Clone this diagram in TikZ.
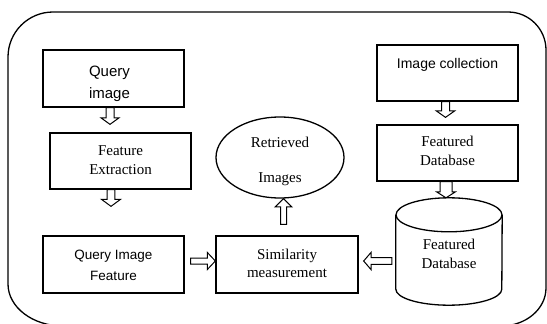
\documentclass[tikz,border=0pt]{standalone}
\usepackage{fontspec}
\setmainfont{Liberation Serif}
\setsansfont{Liberation Sans}
\usetikzlibrary{calc,shapes.geometric}
% text block: declared height #1, depth #2, lines #3
\newcommand\tlines[3]{\raisebox{0pt}[#1][#2]{\begin{tabular}[t]{@{}c@{}}#3\end{tabular}}}
% hollow block arrow: start, end, start gap, end gap, shaft half width, head half width, head length
\newcommand\blkarrow[7]{%
  \draw[blkline] let \p1=(#1), \p2=(#2),
      \n1={atan2(\y2-\y1,\x2-\x1)}, \n2={veclen(\x2-\x1,\y2-\y1)} in
    [shift={(\p1)}, rotate=\n1]
    (#3pt,-#5pt) -- ({\n2-#4pt-#7pt},-#5pt) -- ({\n2-#4pt-#7pt},-#6pt)
    -- ({\n2-#4pt},0pt) -- ({\n2-#4pt-#7pt},#6pt) -- ({\n2-#4pt-#7pt},#5pt)
    -- (#3pt,#5pt) -- cycle;}
\tikzset{
  box/.style={draw, line width=1.3pt, rectangle, inner sep=0pt, minimum width=141pt, minimum height=57pt},
  serif15/.style={font=\rmfamily\fontsize{15}{19}\selectfont},
  blkline/.style={draw, fill=white, line width=1pt, line join=miter},
  outline/.style={line width=1.3pt},
}
\begin{document}
\begin{tikzpicture}[x=1pt,y=-1pt]
\useasboundingbox (0,0) rectangle (547,324);
\clip (0,0) rectangle (547,324);
\draw[outline] (53,12) -- (508,12) arc[start angle=90, end angle=0, radius=38pt]
  -- (546,288) arc[start angle=0, end angle=-90, x radius=45pt, y radius=38pt]
  -- (63,326) arc[start angle=270, end angle=180, x radius=55pt, y radius=42pt]
  -- (8,57) arc[start angle=180, end angle=90, radius=45pt] -- cycle;

% left column
\node[box, font=\sffamily\fontsize{15}{22}\selectfont] (qi) at (113.5,78.5)
  {\tlines{0pt}{5pt}{Query\\image}\hspace*{8pt}};
\node[box, serif15, minimum height=56pt] (fe) at (120.5,161)
  {\tlines{0pt}{12pt}{Feature\\Extraction}};
\node[box, font=\sffamily\fontsize{13.5}{21}\selectfont] (qif) at (113.5,264.5)
  {\tlines{0pt}{11pt}{Query Image\\Feature}};

% middle
\node[box, minimum width=142pt, font=\rmfamily\fontsize{15}{18.5}\selectfont] (sim) at (287,264.5)
  {\tlines{0pt}{11pt}{Similarity\\measurement}};
\node[draw, ellipse, line width=1.3pt, inner sep=0pt, minimum width=128pt, minimum height=81pt,
      font=\rmfamily\fontsize{15}{35}\selectfont] (ell) at (280,157.5)
  {\tlines{0pt}{19.8pt}{Retrieved\\Images}};

% right column
\node[box, minimum height=56pt, font=\sffamily\fontsize{14}{18}\selectfont] (ic) at (447.5,73)
  {\tlines{0pt}{9.4pt}{Image collection}};
\node[box, serif15, minimum height=56pt] (fdb) at (447.5,153)
  {\tlines{0pt}{12.6pt}{Featured\\Database}};
\node[rectangle, inner sep=0pt, minimum width=106pt, minimum height=107pt, serif15] (cyl) at (449,251.5)
  {\tlines{0pt}{5pt}{Featured\\Database}};
\draw[outline] ($(cyl.north)+(0,17)$) ellipse [x radius=53pt, y radius=17pt];
\draw[outline] ($(cyl.north west)+(0,17)$) -- ($(cyl.south west)+(0,-16)$)
  arc[start angle=180, end angle=360, x radius=53pt, y radius=16pt]
  -- ($(cyl.north east)+(0,17)$);

% arrows
\blkarrow{[xshift=-3.5pt]qi.south}{[xshift=-10.5pt]fe.north}{0}{8}{4}{9}{6.5}
\blkarrow{[xshift=-9.5pt]fe.south}{[xshift=-2.5pt]qif.north}{0}{29}{3.8}{9.5}{7}
\blkarrow{[yshift=3.5pt]qif.east}{[yshift=3.5pt]sim.west}{6}{0}{3}{8.5}{8}
\blkarrow{[yshift=-9.5pt]cyl.west}{[yshift=3.5pt]sim.east}{4}{5}{3.3}{8.7}{7.5}
\blkarrow{[xshift=-3.5pt]sim.north}{[xshift=3.5pt]ell.south}{11}{0}{3}{8.3}{8.3}
\blkarrow{[xshift=-2pt]ic.south}{[xshift=-2pt]fdb.north}{0}{7}{4}{9.3}{6.5}
\blkarrow{[xshift=-1.5pt]fdb.south}{[xshift=-3pt]cyl.north}{0}{0}{6}{9.5}{6}
\end{tikzpicture}
\end{document}
